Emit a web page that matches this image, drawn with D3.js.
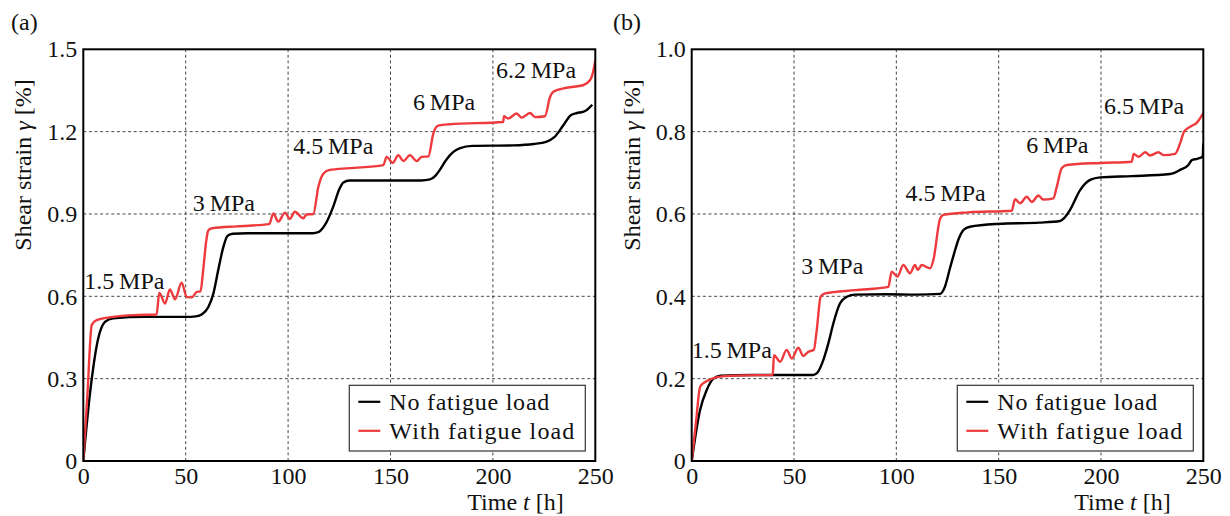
<!DOCTYPE html>
<html>
<head>
<meta charset="utf-8">
<script src="https://cdn.jsdelivr.net/npm/d3@7"></script>
</head>
<body style="margin:0">
<svg id="chart" width="1230" height="516"></svg>
<script>
// ---------- Data ----------
const xTicks = [0, 50, 100, 150, 200, 250];
const yTicksA = [0, 0.3, 0.6, 0.9, 1.2, 1.5];
const yTickLabelsA = ["0", "0.3", "0.6", "0.9", "1.2", "1.5"];
const yTicksB = [0, 0.2, 0.4, 0.6, 0.8, 1.0];
const yTickLabelsB = ["0", "0.2", "0.4", "0.6", "0.8", "1.0"];
const seriesNames = ["No fatigue load", "With fatigue load"];

// Panel (a)
const tNoFatigueA = [0, 3.3, 7.3, 10.6, 14.6, 30, 50, 55, 58, 61, 63.5, 66, 68.4, 70.4, 73, 80, 100, 112, 115, 118, 122, 125, 127, 130, 150, 165, 169.3, 172, 174, 177, 180.7, 184, 190, 210, 220, 226, 230, 234.4, 238, 241, 244, 246, 248.5];
const gNoFatigueA = [0, 0.248, 0.447, 0.507, 0.52, 0.525, 0.525, 0.527, 0.535, 0.56, 0.61, 0.7, 0.78, 0.82, 0.828, 0.83, 0.83, 0.83, 0.835, 0.86, 0.926, 0.99, 1.015, 1.022, 1.022, 1.022, 1.026, 1.04, 1.06, 1.095, 1.126, 1.14, 1.148, 1.15, 1.155, 1.163, 1.18, 1.223, 1.26, 1.268, 1.272, 1.28, 1.298];

const tWithFatigueA = [0, 2, 4.1, 6.5, 14.6, 27, 35.8, 37.1, 39.9, 42.3, 44.8, 48, 50.5, 53, 55.4, 57.2, 58.6, 60, 61, 63, 75, 90.8, 92.8, 95.2, 98.5, 100.9, 103.3, 107.4, 109, 112.3, 114.8, 117.2, 120, 130, 146.5, 148.1, 151.1, 153.8, 156.3, 159.5, 162.8, 165.2, 168.5, 170.9, 173.3, 179, 205, 205.4, 207.5, 211.6, 214, 218.1, 220.6, 225.4, 227.9, 229.5, 236, 244, 247.4, 249, 250];
const gWithFatigueA = [0, 0.24, 0.495, 0.513, 0.525, 0.532, 0.534, 0.613, 0.574, 0.625, 0.589, 0.65, 0.598, 0.596, 0.616, 0.618, 0.7, 0.8, 0.84, 0.848, 0.855, 0.863, 0.902, 0.872, 0.905, 0.882, 0.908, 0.884, 0.898, 0.9, 1.0, 1.047, 1.06, 1.067, 1.078, 1.108, 1.086, 1.114, 1.093, 1.114, 1.093, 1.108, 1.11, 1.193, 1.222, 1.227, 1.235, 1.256, 1.248, 1.266, 1.251, 1.268, 1.253, 1.256, 1.326, 1.345, 1.36, 1.369, 1.387, 1.42, 1.46];

// Panel (b)
const tNoFatigueB = [0, 4.1, 7.3, 10.6, 14, 30, 59.4, 61.5, 64.3, 67, 69.2, 72.5, 75.8, 80, 95, 110, 121.4, 123.5, 126.3, 128, 130.5, 133, 136, 150, 170, 180, 182, 184.9, 189.8, 194.7, 199.6, 215, 233.8, 238.7, 242.7, 244.4, 247, 249.7, 250];
const gNoFatigueB = [0, 0.124, 0.172, 0.2, 0.207, 0.209, 0.209, 0.215, 0.245, 0.29, 0.334, 0.383, 0.399, 0.404, 0.405, 0.404, 0.406, 0.42, 0.47, 0.5, 0.54, 0.562, 0.569, 0.576, 0.579, 0.583, 0.59, 0.61, 0.658, 0.683, 0.689, 0.692, 0.697, 0.707, 0.719, 0.731, 0.734, 0.739, 0.772];

const tWithFatigueB = [0, 2, 4.1, 5.7, 8.9, 14, 25, 39.6, 40.2, 43.2, 46.4, 48.9, 52.1, 54.5, 56.9, 59.7, 61.1, 63, 65.2, 80, 96.1, 97.7, 100.5, 103.4, 106.7, 109.1, 110.5, 112.4, 116.5, 118.1, 121.4, 123, 135, 156.4, 158, 160.5, 163.7, 166.2, 169.4, 171.8, 176.7, 178.4, 180.8, 183.3, 200, 215, 216, 218.4, 221.6, 224, 228.1, 230.5, 236.2, 238.7, 240.6, 243.6, 246.9, 250];
const gWithFatigueB = [0, 0.09, 0.18, 0.189, 0.198, 0.205, 0.208, 0.209, 0.257, 0.241, 0.27, 0.249, 0.275, 0.255, 0.265, 0.27, 0.318, 0.399, 0.407, 0.415, 0.423, 0.46, 0.448, 0.476, 0.456, 0.476, 0.464, 0.476, 0.468, 0.488, 0.589, 0.598, 0.604, 0.608, 0.636, 0.626, 0.642, 0.629, 0.645, 0.635, 0.638, 0.666, 0.711, 0.719, 0.724, 0.727, 0.746, 0.739, 0.75, 0.742, 0.75, 0.743, 0.746, 0.772, 0.8, 0.812, 0.822, 0.845];

const annotationsA = [
  { label: "1.5\u2009MPa", t: 0.5, v: 0.625 },
  { label: "3\u2009MPa", t: 53.5, v: 0.91 },
  { label: "4.5\u2009MPa", t: 102.5, v: 1.12 },
  { label: "6\u2009MPa", t: 161, v: 1.28 },
  { label: "6.2\u2009MPa", t: 201.5, v: 1.395 }
];
const annotationsB = [
  { label: "1.5\u2009MPa", t: 0, v: 0.25 },
  { label: "3\u2009MPa", t: 53.5, v: 0.455 },
  { label: "4.5\u2009MPa", t: 104.5, v: 0.632 },
  { label: "6\u2009MPa", t: 163.5, v: 0.749 },
  { label: "6.5\u2009MPa", t: 201.5, v: 0.843 }
];

const COLOR_BLACK = "#000000";
const COLOR_RED = "#ee3a3d";
const FONT = "'Liberation Serif'";
const FS = 24;

// ---------- Drawing ----------
const svg = d3.select("#chart");

function styleText(sel) {
  return sel.style("font-family", FONT).attr("font-size", FS).attr("fill", "#111");
}

function panel(cfg) {
  const g = svg.append("g");
  const x = d3.scaleLinear().domain([0, 250]).range([cfg.x0, cfg.x1]);
  const y = d3.scaleLinear().domain([cfg.yTicks[0], cfg.yTicks[cfg.yTicks.length - 1]]).range([461, 49.3]);

  // grid
  g.append("g").selectAll("line").data(xTicks.slice(1, -1)).join("line")
    .attr("x1", d => x(d)).attr("x2", d => x(d)).attr("y1", y.range()[0]).attr("y2", y.range()[1])
    .attr("stroke", "#333").attr("stroke-width", 0.9).attr("stroke-dasharray", "3,2.6");
  g.append("g").selectAll("line").data(cfg.yTicks.slice(1, -1)).join("line")
    .attr("x1", x.range()[0]).attr("x2", x.range()[1]).attr("y1", d => y(d)).attr("y2", d => y(d))
    .attr("stroke", "#333").attr("stroke-width", 0.9).attr("stroke-dasharray", "3,2.6");

  // axes (tick labels)
  const xAxis = d3.axisBottom(x).tickValues(xTicks).tickSize(0).tickPadding(6).tickFormat(d3.format("d"));
  const gx = g.append("g").attr("transform", `translate(0,${y.range()[0]})`).call(xAxis);
  gx.select(".domain").remove();
  gx.attr("font-family", null).attr("font-size", null);
  styleText(gx.selectAll("text")).attr("dy", "0.71em");

  const yAxis = d3.axisLeft(y).tickValues(cfg.yTicks).tickSize(0).tickPadding(6)
    .tickFormat((d, i) => cfg.yLabels[i]);
  const gy = g.append("g").attr("transform", `translate(${x.range()[0]},0)`).call(yAxis);
  gy.select(".domain").remove();
  gy.attr("font-family", null).attr("font-size", null);
  styleText(gy.selectAll("text"));

  // clip
  const clipId = "clip" + cfg.id;
  svg.append("clipPath").attr("id", clipId).append("rect")
    .attr("x", x.range()[0]).attr("y", y.range()[1]).attr("width", x.range()[1] - x.range()[0]).attr("height", y.range()[0] - y.range()[1]);

  const line = d3.line().x(d => x(d[0])).y(d => y(d[1])).curve(d3.curveMonotoneX);
  const lines = g.append("g").attr("clip-path", `url(#${clipId})`);
  lines.append("path").datum(d3.zip(cfg.tBlack, cfg.gBlack)).attr("d", line)
    .attr("fill", "none").attr("stroke", COLOR_BLACK).attr("stroke-width", 2.4).attr("stroke-linejoin", "round");
  lines.append("path").datum(d3.zip(cfg.tRed, cfg.gRed)).attr("d", line)
    .attr("fill", "none").attr("stroke", COLOR_RED).attr("stroke-width", 2.4).attr("stroke-linejoin", "round");

  // frame
  g.append("rect").attr("x", x.range()[0]).attr("y", y.range()[1])
    .attr("width", x.range()[1] - x.range()[0]).attr("height", y.range()[0] - y.range()[1])
    .attr("fill", "none").attr("stroke", "#000").attr("stroke-width", 2);

  // annotations
  styleText(g.append("g").selectAll("text").data(cfg.annotations).join("text"))
    .attr("x", d => x(d.t)).attr("y", d => y(d.v))
    .text(d => d.label);

  // legend
  const lx = x.range()[1] - 246, ly = 385.3;
  const lg = g.append("g");
  lg.append("rect").attr("x", lx).attr("y", ly).attr("width", 236).attr("height", 65.7)
    .attr("fill", "#fff").attr("stroke", "#333").attr("stroke-width", 1.2);
  const rows = [[COLOR_BLACK, seriesNames[0], 16.5, 160], [COLOR_RED, seriesNames[1], 45.5, 185]];
  rows.forEach(r => {
    lg.append("line").attr("x1", lx + 9).attr("x2", lx + 31).attr("y1", ly + r[2]).attr("y2", ly + r[2])
      .attr("stroke", r[0]).attr("stroke-width", 2.2);
    styleText(lg.append("text")).attr("x", lx + 40).attr("y", ly + r[2] + 8)
      .attr("textLength", r[3]).attr("lengthAdjust", "spacing").text(r[1]);
  });

  // y label
  const yl = styleText(g.append("text")).attr("transform", `translate(${cfg.ylabX},165) rotate(-90)`)
    .attr("text-anchor", "middle");
  yl.append("tspan").text("Shear strain ");
  yl.append("tspan").style("font-style", "italic").text("\u03B3");
  yl.append("tspan").text(" [%]");

  // x label
  const xl = styleText(g.append("text")).attr("x", cfg.xlabX).attr("y", 510).attr("text-anchor", "middle");
  xl.append("tspan").text("Time ");
  xl.append("tspan").style("font-style", "italic").text("t");
  xl.append("tspan").text(" [h]");

  // panel letter
  styleText(g.append("text")).attr("x", cfg.letterX).attr("y", 30).text(cfg.letter);
}

panel({
  id: "a", x0: 83.3, x1: 595.3, yTicks: yTicksA, yLabels: yTickLabelsA,
  tBlack: tNoFatigueA, gBlack: gNoFatigueA, tRed: tWithFatigueA, gRed: gWithFatigueA,
  annotations: annotationsA, ylabX: 31, xlabX: 515.5, letter: "(a)", letterX: 11
});
panel({
  id: "b", x0: 691.7, x1: 1203.3, yTicks: yTicksB, yLabels: yTickLabelsB,
  tBlack: tNoFatigueB, gBlack: gNoFatigueB, tRed: tWithFatigueB, gRed: gWithFatigueB,
  annotations: annotationsB, ylabX: 640, xlabX: 1122.5, letter: "(b)", letterX: 613
});
</script>
</body>
</html>
